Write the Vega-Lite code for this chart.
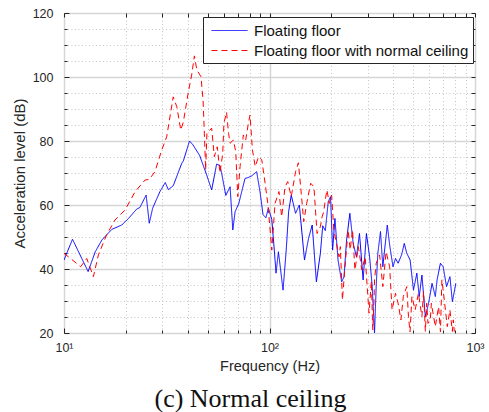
{
  "$schema": "https://vega.github.io/schema/vega-lite/v6.json",
  "width": 411,
  "height": 320,
  "autosize": {"type": "none"},
  "padding": {"left": 64, "top": 13, "right": 14, "bottom": 79},
  "background": "white",
  "config": {"view": {"stroke": "#262626", "strokeWidth": 1}, "font": "Liberation Sans"},
  "title": {"text": "(c) Normal ceiling", "orient": "bottom", "font": "Liberation Serif", "fontSize": 26, "fontWeight": "normal", "color": "#111111", "offset": 13, "anchor": "middle", "dx": -19},
  "data": {"values": [
    {"s": "Floating floor", "f": 10, "db": 42.8},
    {"s": "Floating floor", "f": 11, "db": 49.3},
    {"s": "Floating floor", "f": 13.1, "db": 39.2},
    {"s": "Floating floor", "f": 14.2, "db": 45.4},
    {"s": "Floating floor", "f": 15.3, "db": 49.1},
    {"s": "Floating floor", "f": 17.1, "db": 52.4},
    {"s": "Floating floor", "f": 19.1, "db": 53.75},
    {"s": "Floating floor", "f": 20.6, "db": 55.8},
    {"s": "Floating floor", "f": 22.6, "db": 58.75},
    {"s": "Floating floor", "f": 23.4, "db": 59.2},
    {"s": "Floating floor", "f": 25.1, "db": 63.1},
    {"s": "Floating floor", "f": 26.0, "db": 54.3},
    {"s": "Floating floor", "f": 27.0, "db": 59.0},
    {"s": "Floating floor", "f": 29.3, "db": 64.2},
    {"s": "Floating floor", "f": 31.1, "db": 67.0},
    {"s": "Floating floor", "f": 32.2, "db": 64.8},
    {"s": "Floating floor", "f": 34.0, "db": 66.0},
    {"s": "Floating floor", "f": 37.4, "db": 73.0},
    {"s": "Floating floor", "f": 38.1, "db": 73.8},
    {"s": "Floating floor", "f": 40.8, "db": 80.0},
    {"s": "Floating floor", "f": 42.4, "db": 78.8},
    {"s": "Floating floor", "f": 45.7, "db": 75.5},
    {"s": "Floating floor", "f": 49.4, "db": 69.5},
    {"s": "Floating floor", "f": 52.3, "db": 64.7},
    {"s": "Floating floor", "f": 55.3, "db": 72.8},
    {"s": "Floating floor", "f": 57.4, "db": 72.3},
    {"s": "Floating floor", "f": 58.5, "db": 69.9},
    {"s": "Floating floor", "f": 61.3, "db": 63.0},
    {"s": "Floating floor", "f": 64.3, "db": 65.7},
    {"s": "Floating floor", "f": 66.3, "db": 52.2},
    {"s": "Floating floor", "f": 68.0, "db": 57.9},
    {"s": "Floating floor", "f": 70.9, "db": 60.5},
    {"s": "Floating floor", "f": 76.0, "db": 68.3},
    {"s": "Floating floor", "f": 78.9, "db": 68.6},
    {"s": "Floating floor", "f": 81.9, "db": 69.1},
    {"s": "Floating floor", "f": 86.6, "db": 70.4},
    {"s": "Floating floor", "f": 90.0, "db": 64.0},
    {"s": "Floating floor", "f": 93.0, "db": 57.0},
    {"s": "Floating floor", "f": 96.0, "db": 56.0},
    {"s": "Floating floor", "f": 98.8, "db": 59.0},
    {"s": "Floating floor", "f": 102.6, "db": 55.5},
    {"s": "Floating floor", "f": 105.8, "db": 45.0},
    {"s": "Floating floor", "f": 107.6, "db": 38.7},
    {"s": "Floating floor", "f": 110.5, "db": 45.4},
    {"s": "Floating floor", "f": 116.4, "db": 33.4},
    {"s": "Floating floor", "f": 120.6, "db": 45.9},
    {"s": "Floating floor", "f": 123.9, "db": 57.9},
    {"s": "Floating floor", "f": 127.6, "db": 63.1},
    {"s": "Floating floor", "f": 133.9, "db": 57.4},
    {"s": "Floating floor", "f": 139.7, "db": 60.0},
    {"s": "Floating floor", "f": 148.0, "db": 42.8},
    {"s": "Floating floor", "f": 154.9, "db": 49.6},
    {"s": "Floating floor", "f": 161.4, "db": 53.75},
    {"s": "Floating floor", "f": 169.1, "db": 36.0},
    {"s": "Floating floor", "f": 176.8, "db": 44.9},
    {"s": "Floating floor", "f": 181.6, "db": 53.5},
    {"s": "Floating floor", "f": 186.9, "db": 52.0},
    {"s": "Floating floor", "f": 193.1, "db": 61.0},
    {"s": "Floating floor", "f": 198.2, "db": 62.6},
    {"s": "Floating floor", "f": 202.8, "db": 45.9},
    {"s": "Floating floor", "f": 208.2, "db": 55.8},
    {"s": "Floating floor", "f": 215.5, "db": 42.8},
    {"s": "Floating floor", "f": 224.5, "db": 36.0},
    {"s": "Floating floor", "f": 230.5, "db": 37.6},
    {"s": "Floating floor", "f": 237.2, "db": 49.1},
    {"s": "Floating floor", "f": 246.1, "db": 57.4},
    {"s": "Floating floor", "f": 255.4, "db": 48.0},
    {"s": "Floating floor", "f": 265.0, "db": 43.8},
    {"s": "Floating floor", "f": 274.1, "db": 51.1},
    {"s": "Floating floor", "f": 285.5, "db": 36.6},
    {"s": "Floating floor", "f": 296.2, "db": 51.1},
    {"s": "Floating floor", "f": 307.0, "db": 43.8},
    {"s": "Floating floor", "f": 316.1, "db": 34.5},
    {"s": "Floating floor", "f": 324.4, "db": 20.0},
    {"s": "Floating floor", "f": 330.5, "db": 34.5},
    {"s": "Floating floor", "f": 336.6, "db": 44.9},
    {"s": "Floating floor", "f": 346.9, "db": 51.7},
    {"s": "Floating floor", "f": 356.0, "db": 40.7},
    {"s": "Floating floor", "f": 374.3, "db": 53.75},
    {"s": "Floating floor", "f": 384.3, "db": 47.5},
    {"s": "Floating floor", "f": 399.0, "db": 40.7},
    {"s": "Floating floor", "f": 410.5, "db": 43.3},
    {"s": "Floating floor", "f": 422.6, "db": 41.8},
    {"s": "Floating floor", "f": 439.3, "db": 44.4},
    {"s": "Floating floor", "f": 452.8, "db": 48.0},
    {"s": "Floating floor", "f": 465.6, "db": 44.9},
    {"s": "Floating floor", "f": 483.5, "db": 42.8},
    {"s": "Floating floor", "f": 501.8, "db": 33.4},
    {"s": "Floating floor", "f": 521.3, "db": 38.7},
    {"s": "Floating floor", "f": 535.1, "db": 31.4},
    {"s": "Floating floor", "f": 551.8, "db": 38.1},
    {"s": "Floating floor", "f": 573.3, "db": 25.1},
    {"s": "Floating floor", "f": 594.6, "db": 29.3},
    {"s": "Floating floor", "f": 618.1, "db": 35.5},
    {"s": "Floating floor", "f": 641.1, "db": 31.4},
    {"s": "Floating floor", "f": 653.8, "db": 36.6},
    {"s": "Floating floor", "f": 678.9, "db": 41.8},
    {"s": "Floating floor", "f": 700.0, "db": 40.7},
    {"s": "Floating floor", "f": 727.0, "db": 34.5},
    {"s": "Floating floor", "f": 755.0, "db": 37.6},
    {"s": "Floating floor", "f": 776.2, "db": 29.8},
    {"s": "Floating floor", "f": 806.6, "db": 35.5},
    {"s": "Floating floor with normal ceiling", "f": 10, "db": 44.9},
    {"s": "Floating floor with normal ceiling", "f": 11.5, "db": 41.8},
    {"s": "Floating floor with normal ceiling", "f": 12.05, "db": 40.7},
    {"s": "Floating floor with normal ceiling", "f": 12.9, "db": 43.3},
    {"s": "Floating floor with normal ceiling", "f": 13.9, "db": 37.6},
    {"s": "Floating floor with normal ceiling", "f": 14.7, "db": 44.4},
    {"s": "Floating floor with normal ceiling", "f": 16.1, "db": 50.6},
    {"s": "Floating floor with normal ceiling", "f": 17.7, "db": 55.3},
    {"s": "Floating floor with normal ceiling", "f": 19.8, "db": 58.4},
    {"s": "Floating floor with normal ceiling", "f": 22.2, "db": 64.2},
    {"s": "Floating floor with normal ceiling", "f": 24.8, "db": 67.8},
    {"s": "Floating floor with normal ceiling", "f": 26.0, "db": 68.0},
    {"s": "Floating floor with normal ceiling", "f": 27.7, "db": 70.4},
    {"s": "Floating floor with normal ceiling", "f": 29.9, "db": 77.2},
    {"s": "Floating floor with normal ceiling", "f": 31.6, "db": 81.3},
    {"s": "Floating floor with normal ceiling", "f": 34.0, "db": 93.8},
    {"s": "Floating floor with normal ceiling", "f": 35.4, "db": 90.7},
    {"s": "Floating floor with normal ceiling", "f": 37.0, "db": 83.4},
    {"s": "Floating floor with normal ceiling", "f": 38.1, "db": 86.0},
    {"s": "Floating floor with normal ceiling", "f": 40.3, "db": 95.4},
    {"s": "Floating floor with normal ceiling", "f": 41.8, "db": 100.6},
    {"s": "Floating floor with normal ceiling", "f": 43.1, "db": 106.6},
    {"s": "Floating floor with normal ceiling", "f": 44.3, "db": 102.2},
    {"s": "Floating floor with normal ceiling", "f": 46.4, "db": 100.1},
    {"s": "Floating floor with normal ceiling", "f": 47.5, "db": 92.8},
    {"s": "Floating floor with normal ceiling", "f": 48.2, "db": 82.4},
    {"s": "Floating floor with normal ceiling", "f": 48.9, "db": 70.9},
    {"s": "Floating floor with normal ceiling", "f": 49.6, "db": 82.4},
    {"s": "Floating floor with normal ceiling", "f": 52.3, "db": 84.0},
    {"s": "Floating floor with normal ceiling", "f": 53.9, "db": 75.1},
    {"s": "Floating floor with normal ceiling", "f": 55.7, "db": 78.2},
    {"s": "Floating floor with normal ceiling", "f": 57.4, "db": 70.0},
    {"s": "Floating floor with normal ceiling", "f": 59.2, "db": 76.0},
    {"s": "Floating floor with normal ceiling", "f": 60.0, "db": 85.5},
    {"s": "Floating floor with normal ceiling", "f": 61.8, "db": 89.0},
    {"s": "Floating floor with normal ceiling", "f": 63.2, "db": 82.4},
    {"s": "Floating floor with normal ceiling", "f": 64.3, "db": 79.3},
    {"s": "Floating floor with normal ceiling", "f": 66.7, "db": 80.3},
    {"s": "Floating floor with normal ceiling", "f": 68.5, "db": 76.7},
    {"s": "Floating floor with normal ceiling", "f": 70.1, "db": 62.6},
    {"s": "Floating floor with normal ceiling", "f": 71.9, "db": 72.0},
    {"s": "Floating floor with normal ceiling", "f": 74.6, "db": 81.9},
    {"s": "Floating floor with normal ceiling", "f": 76.6, "db": 80.3},
    {"s": "Floating floor with normal ceiling", "f": 78.9, "db": 85.5},
    {"s": "Floating floor with normal ceiling", "f": 80.4, "db": 88.1},
    {"s": "Floating floor with normal ceiling", "f": 82.6, "db": 77.2},
    {"s": "Floating floor with normal ceiling", "f": 85.2, "db": 72.0},
    {"s": "Floating floor with normal ceiling", "f": 88.5, "db": 75.1},
    {"s": "Floating floor with normal ceiling", "f": 91.7, "db": 74.1},
    {"s": "Floating floor with normal ceiling", "f": 95.2, "db": 66.8},
    {"s": "Floating floor with normal ceiling", "f": 98.1, "db": 60.5},
    {"s": "Floating floor with normal ceiling", "f": 100.7, "db": 52.2},
    {"s": "Floating floor with normal ceiling", "f": 102.6, "db": 45.9},
    {"s": "Floating floor with normal ceiling", "f": 106.4, "db": 60.5},
    {"s": "Floating floor with normal ceiling", "f": 111.2, "db": 64.2},
    {"s": "Floating floor with normal ceiling", "f": 114.6, "db": 56.3},
    {"s": "Floating floor with normal ceiling", "f": 119.0, "db": 65.7},
    {"s": "Floating floor with normal ceiling", "f": 122.7, "db": 67.3},
    {"s": "Floating floor with normal ceiling", "f": 127.6, "db": 62.6},
    {"s": "Floating floor with normal ceiling", "f": 133.9, "db": 70.4},
    {"s": "Floating floor with normal ceiling", "f": 138.2, "db": 73.2},
    {"s": "Floating floor with normal ceiling", "f": 142.7, "db": 63.7},
    {"s": "Floating floor with normal ceiling", "f": 146.8, "db": 54.8},
    {"s": "Floating floor with normal ceiling", "f": 151.7, "db": 60.5},
    {"s": "Floating floor with normal ceiling", "f": 158.6, "db": 66.8},
    {"s": "Floating floor with normal ceiling", "f": 164.5, "db": 65.7},
    {"s": "Floating floor with normal ceiling", "f": 170.4, "db": 51.1},
    {"s": "Floating floor with normal ceiling", "f": 176.8, "db": 53.2},
    {"s": "Floating floor with normal ceiling", "f": 180.3, "db": 56.3},
    {"s": "Floating floor with normal ceiling", "f": 183.6, "db": 57.9},
    {"s": "Floating floor with normal ceiling", "f": 186.9, "db": 61.6},
    {"s": "Floating floor with normal ceiling", "f": 190.3, "db": 64.7},
    {"s": "Floating floor with normal ceiling", "f": 195.5, "db": 60.5},
    {"s": "Floating floor with normal ceiling", "f": 200.6, "db": 63.1},
    {"s": "Floating floor with normal ceiling", "f": 205.6, "db": 52.2},
    {"s": "Floating floor with normal ceiling", "f": 211.7, "db": 48.0},
    {"s": "Floating floor with normal ceiling", "f": 218.0, "db": 43.8},
    {"s": "Floating floor with normal ceiling", "f": 221.2, "db": 47.0},
    {"s": "Floating floor with normal ceiling", "f": 226.4, "db": 30.3},
    {"s": "Floating floor with normal ceiling", "f": 232.3, "db": 39.7},
    {"s": "Floating floor with normal ceiling", "f": 241.4, "db": 52.2},
    {"s": "Floating floor with normal ceiling", "f": 247.0, "db": 46.0},
    {"s": "Floating floor with normal ceiling", "f": 253.6, "db": 52.2},
    {"s": "Floating floor with normal ceiling", "f": 260.5, "db": 39.7},
    {"s": "Floating floor with normal ceiling", "f": 270.6, "db": 47.0},
    {"s": "Floating floor with normal ceiling", "f": 281.3, "db": 39.7},
    {"s": "Floating floor with normal ceiling", "f": 292.2, "db": 43.8},
    {"s": "Floating floor with normal ceiling", "f": 304.9, "db": 26.2},
    {"s": "Floating floor with normal ceiling", "f": 313.1, "db": 36.2},
    {"s": "Floating floor with normal ceiling", "f": 318.0, "db": 21.0},
    {"s": "Floating floor with normal ceiling", "f": 322.2, "db": 29.3},
    {"s": "Floating floor with normal ceiling", "f": 324.4, "db": 36.6},
    {"s": "Floating floor with normal ceiling", "f": 330.5, "db": 41.8},
    {"s": "Floating floor with normal ceiling", "f": 343.5, "db": 44.4},
    {"s": "Floating floor with normal ceiling", "f": 356.0, "db": 34.5},
    {"s": "Floating floor with normal ceiling", "f": 369.3, "db": 45.4},
    {"s": "Floating floor with normal ceiling", "f": 384.3, "db": 40.7},
    {"s": "Floating floor with normal ceiling", "f": 394.8, "db": 27.2},
    {"s": "Floating floor with normal ceiling", "f": 410.5, "db": 32.4},
    {"s": "Floating floor with normal ceiling", "f": 422.6, "db": 29.3},
    {"s": "Floating floor with normal ceiling", "f": 436.0, "db": 24.1},
    {"s": "Floating floor with normal ceiling", "f": 447.9, "db": 31.4},
    {"s": "Floating floor with normal ceiling", "f": 465.6, "db": 34.5},
    {"s": "Floating floor with normal ceiling", "f": 474.6, "db": 25.1},
    {"s": "Floating floor with normal ceiling", "f": 483.0, "db": 20.3},
    {"s": "Floating floor with normal ceiling", "f": 493.2, "db": 31.4},
    {"s": "Floating floor with normal ceiling", "f": 511.5, "db": 27.2},
    {"s": "Floating floor with normal ceiling", "f": 530.6, "db": 32.4},
    {"s": "Floating floor with normal ceiling", "f": 551.8, "db": 25.1},
    {"s": "Floating floor with normal ceiling", "f": 562.0, "db": 33.0},
    {"s": "Floating floor with normal ceiling", "f": 573.3, "db": 20.5},
    {"s": "Floating floor with normal ceiling", "f": 582.0, "db": 29.3},
    {"s": "Floating floor with normal ceiling", "f": 590.6, "db": 23.0},
    {"s": "Floating floor with normal ceiling", "f": 606.0, "db": 24.1},
    {"s": "Floating floor with normal ceiling", "f": 613.3, "db": 29.3},
    {"s": "Floating floor with normal ceiling", "f": 641.0, "db": 22.0},
    {"s": "Floating floor with normal ceiling", "f": 665.0, "db": 28.2},
    {"s": "Floating floor with normal ceiling", "f": 679.0, "db": 20.4},
    {"s": "Floating floor with normal ceiling", "f": 690.0, "db": 36.6},
    {"s": "Floating floor with normal ceiling", "f": 709.0, "db": 30.3},
    {"s": "Floating floor with normal ceiling", "f": 733.0, "db": 22.0},
    {"s": "Floating floor with normal ceiling", "f": 755.0, "db": 27.2},
    {"s": "Floating floor with normal ceiling", "f": 776.0, "db": 20.5},
    {"s": "Floating floor with normal ceiling", "f": 784.0, "db": 24.1},
    {"s": "Floating floor with normal ceiling", "f": 793.0, "db": 20.4}
  ]},
  "layer": [
    {
      "mark": {"type": "line", "strokeWidth": 1, "clip": true},
      "encoding": {
        "x": {"field": "f", "type": "quantitative",
          "scale": {"type": "log", "domain": [10, 1000]},
          "axis": {"orient": "bottom", "values": [10, 100, 1000],
            "labelExpr": "datum.value == 10 ? '10¹' : datum.value == 100 ? '10²' : '10³'",
            "title": "Frequency (Hz)", "grid": true, "gridColor": "#d6d6d6", "gridWidth": 1.5,
            "domain": false, "tickSize": -5, "tickColor": "#262626", "labelPadding": 13,
            "labelFontSize": 12.5, "labelColor": "#262626", "labelFlush": false,
            "titleFontSize": 14.5, "titleFontWeight": "normal", "titleColor": "#262626", "titlePadding": 6}},
        "y": {"field": "db", "type": "quantitative",
          "scale": {"domain": [20, 120]},
          "axis": {"orient": "left", "values": [20, 40, 60, 80, 100, 120],
            "title": "Acceleration level (dB)", "grid": true, "gridColor": "#d6d6d6", "gridWidth": 1.5,
            "domain": false, "tickSize": -5, "tickColor": "#262626", "labelPadding": 16,
            "labelFontSize": 12.5, "labelColor": "#262626", "labelFlush": false,
            "titleFontSize": 15, "titleFontWeight": "normal", "titleColor": "#262626", "titlePadding": 5}},
        "color": {"field": "s", "type": "nominal",
          "scale": {"domain": ["Floating floor", "Floating floor with normal ceiling"], "range": ["#0000ff", "#ff0000"]},
          "legend": {"orient": "none", "legendX": 139, "legendY": 4, "title": null, "strokeColor": "#262626", "fillColor": "white", "padding": 4, "symbolType": "M-0.556,0H3.444", "symbolSize": 324, "symbolStrokeWidth": 1, "labelFontSize": 15, "labelColor": "#111111", "labelOffset": 28, "rowPadding": 2, "labelFont": "Liberation Sans", "labelLimit": 400, "cornerRadius": 0}},
        "strokeDash": {"field": "s", "type": "nominal",
          "scale": {"domain": ["Floating floor", "Floating floor with normal ceiling"], "range": [[1, 0], [6, 4]]},
          "legend": {"orient": "none", "legendX": 139, "legendY": 4, "title": null, "strokeColor": "#262626", "fillColor": "white", "padding": 4, "symbolType": "M-0.556,0H3.444", "symbolSize": 324, "symbolStrokeWidth": 1, "labelFontSize": 15, "labelColor": "#111111", "labelOffset": 28, "rowPadding": 2, "labelFont": "Liberation Sans", "labelLimit": 400, "cornerRadius": 0}}
      }
    },
    {
      "mark": {"type": "line", "opacity": 0},
      "encoding": {
        "x": {"field": "f", "type": "quantitative",
          "axis": {"orient": "bottom", "values": [20, 30, 40, 50, 60, 70, 80, 90, 200, 300, 400, 500, 600, 700, 800, 900],
            "labels": false, "title": null, "grid": true, "gridColor": "#c4c4c4", "gridDash": [1, 2.5], "gridWidth": 1,
            "domain": false, "tickSize": -3, "tickColor": "#262626"}},
        "y": {"field": "db", "type": "quantitative",
          "axis": {"orient": "left", "values": [25, 30, 35, 45, 50, 55, 65, 70, 75, 85, 90, 95, 105, 110, 115],
            "labels": false, "title": null, "grid": true, "gridColor": "#c4c4c4", "gridDash": [1, 2.5], "gridWidth": 1,
            "domain": false, "tickSize": -3, "tickColor": "#262626"}},
        "detail": {"field": "s"}
      }
    },
    {
      "mark": {"type": "line", "opacity": 0},
      "encoding": {
        "x": {"field": "f", "type": "quantitative",
          "axis": {"orient": "top", "values": [10, 20, 30, 40, 50, 60, 70, 80, 90, 100, 200, 300, 400, 500, 600, 700, 800, 900, 1000],
            "labels": false, "title": null, "grid": false, "domain": false, "tickSize": -4, "tickColor": "#262626"}},
        "y": {"field": "db", "type": "quantitative",
          "axis": {"orient": "right", "values": [20, 25, 30, 35, 40, 45, 50, 55, 60, 65, 70, 75, 80, 85, 90, 95, 100, 105, 110, 115, 120],
            "labels": false, "title": null, "grid": false, "domain": false, "tickSize": -4, "tickColor": "#262626"}},
        "detail": {"field": "s"}
      }
    }
  ],
  "resolve": {"axis": {"x": "independent", "y": "independent"}}
}
